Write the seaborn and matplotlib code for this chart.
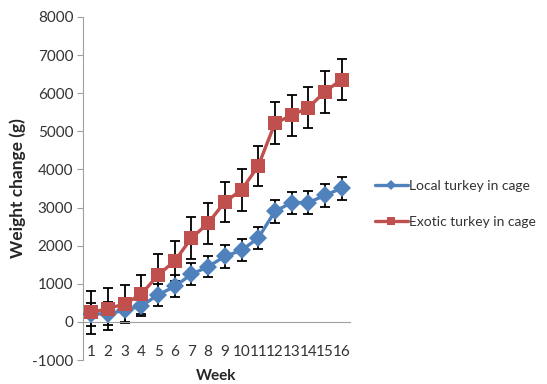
import numpy as np
import pandas as pd
import matplotlib
matplotlib.use("Agg")
import matplotlib.pyplot as plt
import seaborn as sns
from matplotlib.lines import Line2D

weeks = list(range(1, 17))
local_mean = [200, 220, 300, 420, 710, 930, 1250, 1450, 1720, 1880, 2200, 2900, 3130, 3130, 3320, 3510]
local_err = [300, 290, 290, 270, 290, 290, 290, 280, 300, 290, 300, 300, 290, 300, 300, 300]
exotic_mean = [250, 350, 470, 730, 1230, 1600, 2200, 2590, 3150, 3460, 4090, 5210, 5420, 5620, 6040, 6360]
exotic_err = [560, 550, 510, 510, 540, 520, 540, 540, 530, 550, 530, 550, 540, 540, 550, 530]
series_names = ["Local turkey in cage", "Exotic turkey in cage"]
colors = ["#4F81BD", "#C0504D"]

sns.set_style("white")
plt.rcParams["font.family"] = ["Lato", "DejaVu Sans"]
plt.rcParams["axes.unicode_minus"] = False

df = pd.DataFrame({
    "Week": weeks * 2,
    "Weight": local_mean + exotic_mean,
    "Group": [series_names[0]] * 16 + [series_names[1]] * 16,
})

fig = plt.figure(figsize=(5.47, 3.84), dpi=100)
ax = fig.add_axes([83 / 547, 1 - 360 / 384, (350 - 83) / 547, (360 - 17) / 384])

# error bars beneath the series
for mean, err in [(local_mean, local_err), (exotic_mean, exotic_err)]:
    ax.errorbar(weeks, mean, yerr=err, fmt="none", ecolor="black",
                elinewidth=1.3, capsize=3.5, capthick=1.3, zorder=2)

sns.lineplot(data=df, x="Week", y="Weight", hue="Group", style="Group",
             palette=colors, markers={series_names[0]: "D", series_names[1]: "s"},
             dashes=False, linewidth=2.4, markersize=9.5, markeredgewidth=0,
             ax=ax, legend=False, zorder=3)

ax.set_xlim(0.5, 16.5)
ax.set_ylim(-1000, 8000)
ax.set_yticks(range(-1000, 8001, 1000))
ax.set_xticks(weeks)
ax.set_xticklabels([str(w) for w in weeks])

for s in ["top", "right"]:
    ax.spines[s].set_visible(False)
ax.spines["left"].set_color("#A0A0A0")
ax.spines["bottom"].set_color("#A0A0A0")
ax.spines["bottom"].set_position(("data", 0))
ax.tick_params(axis="y", direction="out", length=4, color="#A0A0A0",
               labelsize=11, pad=3, labelcolor="#333333", left=True)
ax.tick_params(axis="x", length=0, labelsize=11, pad=17, labelcolor="#333333")

ax.set_ylabel("Weight change (g)", fontsize=12.5, fontweight="bold", labelpad=4)
ax.set_xlabel("")
fig.text((83 + 350) / 2 / 547, 1 - 376 / 384, "Week", ha="center", va="center",
         fontsize=11, fontweight="bold")

handles = [
    Line2D([0], [0], color=colors[0], lw=2.4, marker="D", markersize=5, markeredgewidth=0),
    Line2D([0], [0], color=colors[1], lw=2.4, marker="s", markersize=6, markeredgewidth=0),
]
fig.legend(handles, series_names, loc="center left",
           bbox_to_anchor=(362 / 547, 1 - 204 / 384), frameon=False,
           fontsize=10, handlelength=2.4, handletextpad=0.1, labelspacing=1.7,
           labelcolor="#333333")

fig.savefig("out.png", dpi=100)
